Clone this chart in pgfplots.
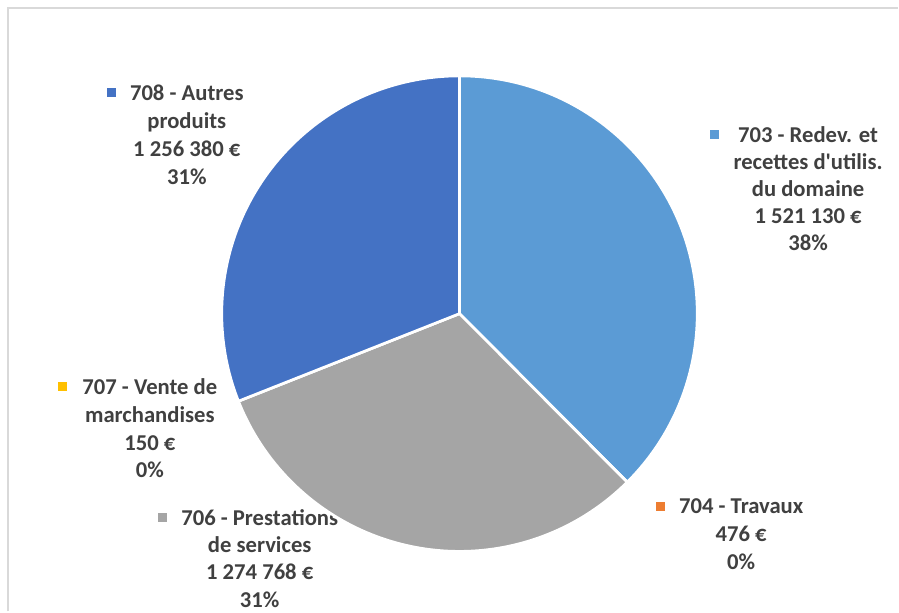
\documentclass[border=0pt]{standalone}
\usepackage{pgfplots}
\usepackage{pgfplotstable}
\pgfplotsset{compat=1.18}
\usepackage{xfp}
\usepackage{fontspec}
\setmainfont{Carlito}
\definecolor{c703}{HTML}{5B9BD5}
\definecolor{c704}{HTML}{ED7D31}
\definecolor{c706}{HTML}{A5A5A5}
\definecolor{c707}{HTML}{FFC000}
\definecolor{c708}{HTML}{4472C4}
\definecolor{txt}{HTML}{404040}
\definecolor{frm}{HTML}{D9D9D9}

% slice values (EUR), clockwise from 12 o'clock
\pgfplotstableread{
code value
703 1521130
704 476
706 1274768
707 150
708 1256380
}\piedata

% running total per slice (stored per code)
\gdef\cumsum{0}
\pgfplotstablecreatecol[create col/assign/.code={%
  \getthisrow{value}\rv
  \getthisrow{code}\rc
  \xdef\cumsum{\fpeval{\cumsum+\rv}}%
  \expandafter\xdef\csname pv@\rc\endcsname{\rv}%
  \expandafter\xdef\csname pc@\rc\endcsname{\cumsum}%
  \pgfkeyslet{/pgfplots/table/create col/next content}\cumsum}]{cum}\piedata
\xdef\tot{\cumsum}

% pie wedge drawn at the data point, angles from the slice's value and running total
\pgfdeclareplotmark{wedge}{%
  \edef\pcode{\pgfplotspointmeta}%
  \edef\pval{\csname pv@\pcode\endcsname}%
  \edef\pcum{\csname pc@\pcode\endcsname}%
  \edef\sa{\fpeval{90-360*(\pcum-\pval)/\tot}}%
  \edef\ea{\fpeval{90-360*\pcum/\tot}}%
  \pgfsetfillcolor{c\pcode}%
  \pgfsetstrokecolor{white}%
  \pgfsetlinewidth{2pt}%
  \pgfsetroundjoin
  \pgfpathmoveto{\pgfpointorigin}%
  \pgfpathlineto{\pgfpointpolar{\sa}{178.5pt}}%
  \pgfpatharc{\sa}{\ea}{178.5pt}%
  \pgfpathclose
  \pgfusepathqfillstroke
}

\newcommand{\lbl}[3]{\node[anchor=base, inner sep=0pt, text=txt, font=\fontsize{17}{20}\selectfont\bfseries] at (axis cs:#1,{612-#2}) {#3};}
\newcommand{\key}[3]{\node[fill=#3, inner sep=0pt, minimum size=6.75pt] at (axis cs:#1,{612-#2}) {};}

\begin{document}
\begin{tikzpicture}
\begin{axis}[x=0.75pt, y=0.75pt, xmin=0, xmax=899, ymin=0, ymax=612,
  hide axis, clip=false, scale only axis]
\path (axis cs:0,0) rectangle (axis cs:899,612);
\draw[frm, line width=1.5pt] (axis cs:8.5,0) -- (axis cs:8.5,603.5) -- (axis cs:899,603.5);

\addplot[scatter, only marks, mark=wedge, point meta=explicit symbolic,
  scatter/@pre marker code/.code={}, scatter/@post marker code/.code={}]
  table[x expr=460, y expr=298, meta=code] {\piedata};

% 708
\key{112}{93}{c708}
\lbl{187}{100.7}{708 - Autres}
\lbl{187}{128.5}{produits}
\lbl{187}{156.5}{1 256 380 €}
\lbl{187}{184.5}{31\%}
% 703
\key{715.5}{135}{c703}
\lbl{809}{143}{703 - Redev. et}
\lbl{809}{170}{recettes d\textquotesingle utilis.}
\lbl{809}{197}{du domaine}
\lbl{809}{224}{1 521 130 €}
\lbl{809}{251}{38\%}
% 704
\key{661}{507}{c704}
\lbl{742}{514}{704 - Travaux}
\lbl{742}{542}{476 €}
\lbl{742}{570}{0\%}
% 707
\key{63}{387}{c707}
\lbl{150}{395}{707 - Vente de}
\lbl{150}{423}{marchandises}
\lbl{150}{451}{150 €}
\lbl{150}{478}{0\%}
% 706
\key{163}{518}{c706}
\lbl{260}{526}{706 - Prestations}
\lbl{260}{553}{de services}
\lbl{260}{580}{1 274 768 €}
\lbl{260}{608}{31\%}
\end{axis}
\end{tikzpicture}
\end{document}
